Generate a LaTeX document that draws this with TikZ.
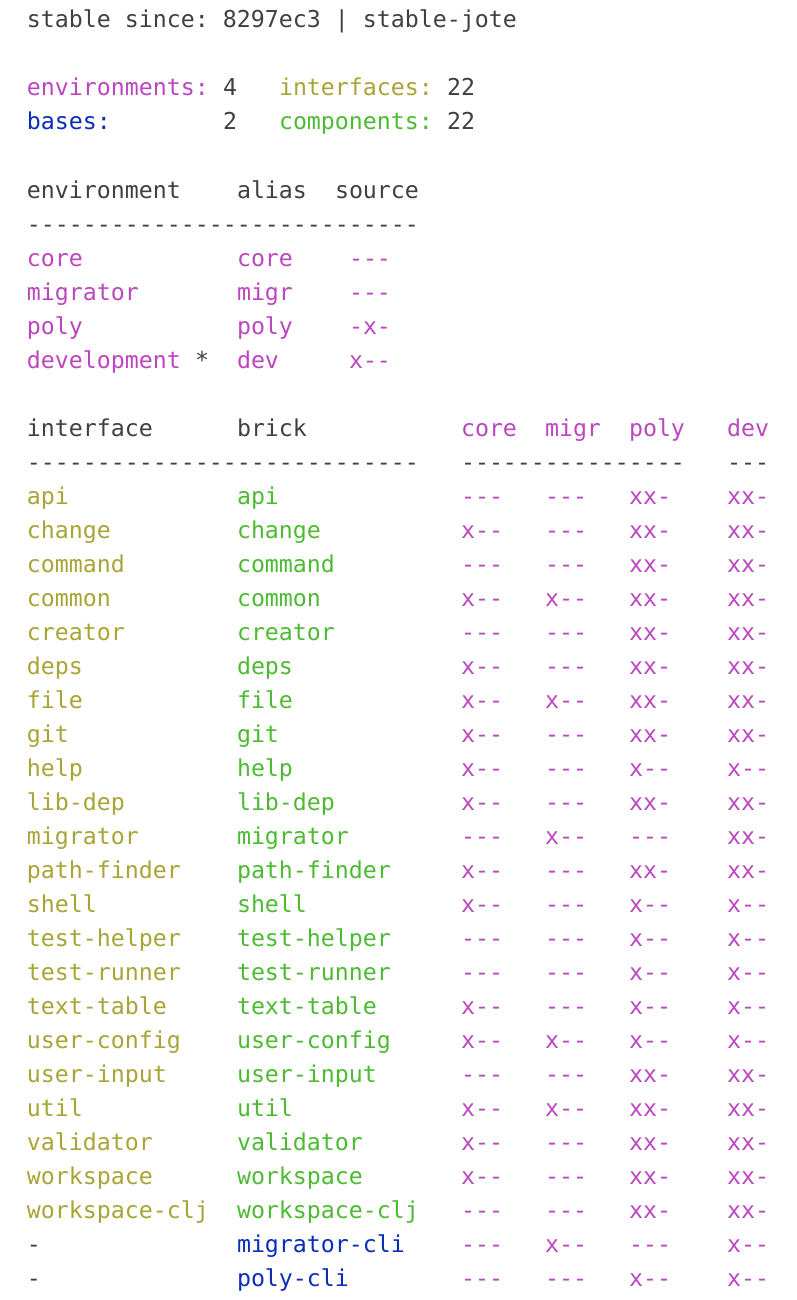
\documentclass[tikz,border=0pt]{standalone}
\usepackage{fontspec}
\setmonofont{DejaVu Sans Mono}
\definecolor{gry}{HTML}{404040}
\definecolor{mag}{HTML}{BC46C0}
\definecolor{olv}{HTML}{A9A436}
\definecolor{grn}{HTML}{4DBB32}
\definecolor{blu}{HTML}{0C2DB8}
\tikzset{cell/.style={anchor=base west, inner sep=0pt, outer sep=0pt,
  font=\ttfamily\frenchspacing\fontsize{23.25}{28}\selectfont}}
\newcommand\putcell[5]{\node[cell, text=#4] (#1) at ({27+14*#2},{28+34*#3}) {#5};}
\begin{document}
\begin{tikzpicture}[x=1pt,y=-1pt]
\fill[white] (0,0) rectangle (796,1300);
\useasboundingbox (0,0) rectangle (796,1300);
% header
\putcell{hdr}{0}{0}{gry}{stable since: 8297ec3 | stable-jote}
% counts
\putcell{envl}{0}{2}{mag}{environments:}
\putcell{envn}{14}{2}{gry}{4}
\putcell{ifcl}{18}{2}{olv}{interfaces:}
\putcell{ifcn}{30}{2}{gry}{22}
\putcell{basl}{0}{3}{blu}{bases:}
\putcell{basn}{14}{3}{gry}{2}
\putcell{cmpl}{18}{3}{grn}{components:}
\putcell{cmpn}{30}{3}{gry}{22}
% environments table
\putcell{eh0}{0}{5}{gry}{environment}
\putcell{eh1}{15}{5}{gry}{alias}
\putcell{eh2}{22}{5}{gry}{source}
\putcell{es0}{0}{6}{gry}{----------------------------}
\foreach \r/\e/\al/\s in {7/core/core/---, 8/migrator/migr/---, 9/poly/poly/-x-, 10/development/dev/x--}{
  \putcell{e\r-0}{0}{\r}{mag}{\e}
  \putcell{e\r-1}{15}{\r}{mag}{\al}
  \putcell{e\r-2}{23}{\r}{mag}{\s}
}
\putcell{star}{12}{10}{gry}{*}
% bricks table
\putcell{bh0}{0}{12}{gry}{interface}
\putcell{bh1}{15}{12}{gry}{brick}
\putcell{bh2}{31}{12}{mag}{core}
\putcell{bh3}{37}{12}{mag}{migr}
\putcell{bh4}{43}{12}{mag}{poly}
\putcell{bh5}{50}{12}{mag}{dev}
\putcell{bs0}{0}{13}{gry}{----------------------------}
\putcell{bs1}{31}{13}{gry}{----------------}
\putcell{bs2}{50}{13}{gry}{---}
\foreach \r/\i/\b/\ic/\bc/\ca/\cm/\cp/\cd in {
 14/api/api/olv/grn/---/---/xx-/xx-,
 15/change/change/olv/grn/x--/---/xx-/xx-,
 16/command/command/olv/grn/---/---/xx-/xx-,
 17/common/common/olv/grn/x--/x--/xx-/xx-,
 18/creator/creator/olv/grn/---/---/xx-/xx-,
 19/deps/deps/olv/grn/x--/---/xx-/xx-,
 20/file/file/olv/grn/x--/x--/xx-/xx-,
 21/git/git/olv/grn/x--/---/xx-/xx-,
 22/help/help/olv/grn/x--/---/x--/x--,
 23/lib-dep/lib-dep/olv/grn/x--/---/xx-/xx-,
 24/migrator/migrator/olv/grn/---/x--/---/xx-,
 25/path-finder/path-finder/olv/grn/x--/---/xx-/xx-,
 26/shell/shell/olv/grn/x--/---/x--/x--,
 27/test-helper/test-helper/olv/grn/---/---/x--/x--,
 28/test-runner/test-runner/olv/grn/---/---/x--/x--,
 29/text-table/text-table/olv/grn/x--/---/x--/x--,
 30/user-config/user-config/olv/grn/x--/x--/x--/x--,
 31/user-input/user-input/olv/grn/---/---/xx-/xx-,
 32/util/util/olv/grn/x--/x--/xx-/xx-,
 33/validator/validator/olv/grn/x--/---/xx-/xx-,
 34/workspace/workspace/olv/grn/x--/---/xx-/xx-,
 35/workspace-clj/workspace-clj/olv/grn/---/---/xx-/xx-,
 36/-/migrator-cli/gry/blu/---/x--/---/x--,
 37/-/poly-cli/gry/blu/---/---/x--/x--}{
  \putcell{b\r-0}{0}{\r}{\ic}{\i}
  \putcell{b\r-1}{15}{\r}{\bc}{\b}
  \putcell{b\r-2}{31}{\r}{mag}{\ca}
  \putcell{b\r-3}{37}{\r}{mag}{\cm}
  \putcell{b\r-4}{43}{\r}{mag}{\cp}
  \putcell{b\r-5}{50}{\r}{mag}{\cd}
}
\end{tikzpicture}
\end{document}
